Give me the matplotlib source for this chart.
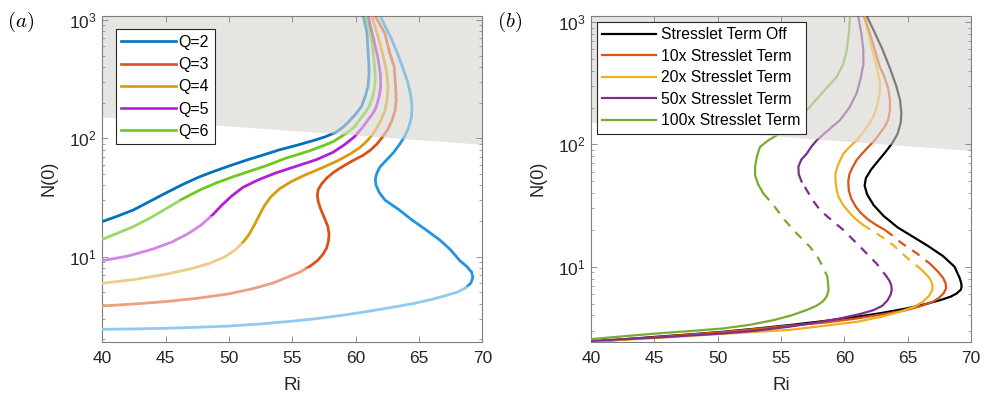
import numpy as np
import matplotlib
matplotlib.use("Agg")
import matplotlib.pyplot as plt
from matplotlib.patches import Polygon
from matplotlib.lines import Line2D
from matplotlib.ticker import LogLocator, NullFormatter

plt.rcParams['font.family'] = ['Liberation Sans', 'DejaVu Sans']

# ---------------- panel (a): N(0) vs Ri for several Q ----------------
q_labels = ["Q=2", "Q=3", "Q=4", "Q=5", "Q=6"]

q2_ri = [40, 42.5, 45, 47.5, 50, 52.5, 55, 57, 59, 61, 63, 64.5, 66, 67, 68, 68.7, 69.1, 69.25,
         69.15, 68.8, 68.2, 67.5, 66.65, 65.5, 64.45, 63.4, 62.32, 61.85, 61.6, 61.55, 61.65,
         61.9, 62.4, 63.0, 63.5, 63.9, 64.2, 64.4, 64.45, 64.35, 64.1, 63.7, 63.3, 62.8, 62.3, 61.9]
q2_n = [2.43, 2.45, 2.48, 2.53, 2.59, 2.7, 2.85, 3.0, 3.2, 3.45, 3.75, 4.0, 4.35, 4.65, 5.0, 5.45,
        6.0, 6.7, 7.4, 8.2, 9.3, 11.4, 13.8, 17, 20.4, 25, 30, 35, 40.3, 45, 50,
        57, 65, 76, 90, 105, 125, 150, 185, 230, 300, 400, 520, 700, 900, 1100]

q3_ri = [40, 42.5, 45, 47.5, 50, 52, 53.5, 54.6, 55.6, 56.4, 57.0, 57.4, 57.7, 57.85, 57.9, 57.8,
         57.55, 57.25, 57.05, 56.97, 57.05, 57.3, 57.7, 58.3, 59.0, 59.8, 60.6, 61.2, 61.7, 62.1,
         62.5, 62.85, 63.1, 63.2, 63.15, 63.05, 62.7, 62.3, 61.9, 61.5]
q3_n = [3.83, 3.98, 4.17, 4.45, 4.85, 5.4, 6.0, 6.7, 7.4, 8.3, 9.3, 10.4, 11.8, 13.5, 15.5, 18,
        21, 25, 29, 33, 37, 41, 46, 52, 58, 65, 72, 80, 90, 102,
        117, 140, 170, 210, 270, 400, 520, 773, 920, 1100]

q4_ri = [40, 42.5, 45, 47, 48.5, 49.7, 50.5, 51.1, 51.6, 52.0, 52.4, 52.8, 53.3, 54.0, 54.9, 56.0,
         57.3, 58.5, 59.5, 60.3, 60.9, 61.4, 61.9, 62.3, 62.5, 62.55, 62.45, 62.2, 61.8, 61.5, 61.24]
q4_n = [5.96, 6.4, 7.1, 7.9, 8.8, 10.0, 11.4, 13.2, 15.5, 18.5, 22.5, 27, 32, 37.5, 43, 49,
        56, 64, 73, 83, 95, 110, 135, 170, 220, 280, 360, 480, 700, 900, 1100]

q5_ri = [40, 42, 44, 45.5, 46.8, 47.8, 48.7, 49.4, 50.2, 51.1, 52.3, 53.7, 55.3, 56.9, 58.2, 59.1,
         59.9, 60.5, 60.97, 61.4, 61.63, 61.85, 61.97, 61.95, 61.75, 61.4, 61.15, 60.97]
q5_n = [9.25, 10.1, 11.6, 13.3, 15.7, 18.5, 22.5, 27, 32.5, 38.5, 44.5, 51, 58, 66, 76, 88,
        103, 122, 143, 165, 185, 225, 273, 350, 480, 700, 900, 1100]

q6_ri = [40, 41.2, 42.45, 43.8, 45.08, 46.4, 47.7, 49, 50.34, 51.7, 52.97, 54.5, 56.3, 57.5, 58.24,
         59.26, 59.9, 60.3, 60.75, 61.05, 61.35, 61.5, 61.55, 61.5, 61.35, 61.16, 60.8]
q6_n = [14.0, 15.8, 17.9, 21.3, 25.6, 31, 36.6, 42, 47.4, 53, 58.8, 68, 78, 87, 94,
        110, 125, 143, 165, 185, 225, 273, 330, 403, 560, 773, 1100]

q7_ri = [40, 41.2, 42.45, 43.8, 45.08, 46.4, 47.7, 48.9, 50.1, 51.4, 52.7, 54.0, 55.3, 56.7, 57.6,
         58.4, 59.0, 59.5, 60.0, 60.45, 60.75, 60.97, 61.05, 61.05, 60.95, 60.9, 60.58]
q7_n = [19.8, 22, 24.8, 29.5, 34.8, 41, 47.4, 53, 58.8, 65.5, 72.3, 80, 87, 96, 103,
        112, 124, 140, 160, 185, 225, 273, 340, 403, 600, 773, 1100]

# ---------------- panel (b): stresslet strength ----------------
s_labels = ["Stresslet Term Off", "10x Stresslet Term", "20x Stresslet Term",
            "50x Stresslet Term", "100x Stresslet Term"]

off_ri = [40, 42.5, 45.2, 47.8, 50.4, 53, 55.7, 58.4, 61.0, 63, 64.9, 66.4, 67.55, 68.4, 68.87,
          69.2, 69.26, 69.22, 69.1, 68.7, 67.8, 66.6, 65.45, 64.2, 63.1, 62.3, 61.8, 61.6, 61.7,
          62.1, 62.7, 63.3, 63.8, 64.2, 64.45, 64.5, 64.4, 64.1, 63.6, 63.0, 62.4, 61.8]
off_n = [2.44, 2.55, 2.68, 2.8, 2.94, 3.12, 3.34, 3.6, 3.9, 4.2, 4.56, 4.95, 5.33, 5.7, 6.05,
         6.5, 6.9, 7.4, 8.1, 10, 12.2, 14.8, 17.5, 21, 26, 32, 39, 46, 53,
         62, 74, 88, 103, 122, 150, 180, 230, 300, 420, 600, 820, 1100]

# 10x: stable lower branch, unstable (dashed) middle, upper branch
x10_lo_ri = [40, 45.2, 50.4, 55.7, 58.5, 61.0, 63.1, 64.9, 66.1, 67.0, 67.5, 67.85, 68.03, 68.0,
             67.8, 67.4, 66.76]
x10_lo_n = [2.43, 2.66, 2.92, 3.3, 3.5, 3.78, 4.1, 4.42, 4.8, 5.18, 5.6, 6.1, 6.65, 7.3,
            8.1, 9.1, 10.6]
x10_mid_ri = [66.76, 66.2, 65.71, 65.0, 64.39, 63.8, 63.2]
x10_mid_n = [10.6, 11.7, 12.9, 14.4, 16, 18, 20]
x10_up_ri = [63.2, 62.5, 61.9, 61.3, 60.9, 60.55, 60.35, 60.31, 60.4, 60.65, 60.97, 61.4, 61.9,
             62.4, 62.8, 63.2, 63.47, 63.6, 63.6, 63.45, 63.15, 62.8, 62.5, 62.2, 61.9, 61.55]
x10_up_n = [20, 22, 24.2, 27.5, 31, 36, 42, 50, 57, 65, 74.5, 84, 95.5,
            108, 123, 140, 160, 190, 230, 290, 360, 431, 550, 700, 880, 1100]

x20_lo_ri = [40, 45.2, 50.4, 55.7, 58.5, 61.0, 62.9, 64.4, 65.5, 66.2, 66.7, 66.95, 66.95, 66.75,
             66.4, 65.97]
x20_lo_n = [2.45, 2.62, 2.83, 3.05, 3.3, 3.55, 3.9, 4.29, 4.7, 5.18, 5.8, 6.5, 7.2, 8.0,
            8.8, 9.7]
x20_mid_ri = [65.97, 65.18, 64.5, 63.87, 63.2, 62.55, 61.5]
x20_mid_n = [9.7, 11.3, 13.0, 15, 16.9, 18.7, 21.9]
x20_up_ri = [61.5, 60.9, 60.45, 59.9, 59.55, 59.4, 59.3, 59.3, 59.5, 59.92, 60.4, 60.97, 61.6,
             62.0, 62.29, 62.6, 62.8, 62.8, 62.55, 62.2, 61.9, 61.63]
x20_up_n = [21.9, 24.5, 27.3, 32, 37, 42.3, 50, 58, 68, 84, 95, 108, 130,
            150, 168, 210, 261, 330, 431, 600, 800, 1100]

x50_lo_ri = [40, 45.2, 50.4, 53, 55.7, 57.8, 59.66, 61.2, 62.3, 63.0, 63.4, 63.65, 63.74, 63.7,
             63.55, 63.34]
x50_lo_n = [2.48, 2.64, 2.85, 3.0, 3.24, 3.5, 3.78, 4.1, 4.42, 4.8, 5.3, 5.9, 6.45, 7.1,
            7.7, 8.3]
x50_mid_ri = [63.34, 62.55, 61.9, 61.24, 60.6, 59.92, 59.0, 58.08, 57.5, 57.03, 56.63]
x50_mid_n = [8.3, 10.6, 12.4, 14.6, 17, 20, 24, 29, 35, 42.3, 49.4]
x50_up_ri = [56.63, 56.4, 56.37, 56.6, 57.03, 57.4, 57.82, 58.7, 59.66, 60.4, 60.97, 61.3, 61.5,
             61.5, 61.35, 61.1]
x50_up_n = [49.4, 57, 65.6, 75, 84, 96, 108, 130, 158, 200, 261, 350, 450,
            590, 800, 1100]

x100_lo_ri = [40, 42.5, 45.2, 47.8, 50.4, 52.5, 54.4, 55.8, 57.0, 57.8, 58.3, 58.6, 58.74, 58.74,
              58.7, 58.66]
x100_lo_n = [2.56, 2.7, 2.85, 2.98, 3.13, 3.35, 3.66, 4.0, 4.42, 4.8, 5.2, 5.7, 6.3, 6.86,
             7.5, 8.3]
x100_mid_ri = [58.66, 58.3, 57.95, 57.3, 56.24, 55.3, 54.4, 53.6]
x100_mid_n = [8.3, 10, 11.7, 14.5, 18.7, 24, 31.9, 39.8]
x100_up_ri = [53.6, 53.2, 52.95, 52.95, 53.1, 53.34, 54.0, 54.92, 56.0, 57.03, 58.2, 59.4, 59.9,
              60.19, 60.35, 60.45]
x100_up_n = [39.8, 47, 56, 65.6, 80, 95.5, 108, 123, 150, 190, 260, 357, 450,
             590, 800, 1100]

# shaded region: N(0) above this line
shade_ri = [40, 70]
shade_n = [152, 89]

# ---------------- styling ----------------
q_colors = ["#0072BD", "#D95319", "#D99A0E", "#B21FD4", "#6CC91E"]
q2_color = "#2393E3"
s_colors = ["#000000", "#D95319", "#EDB120", "#7E2F8E", "#77AC30"]
shade_color = "#E6E5E2"
axis_color = "#7f7f7f"
text_color = "#262626"


def lighten(c, f):
    rgb = np.array(matplotlib.colors.to_rgb(c))
    return tuple(rgb + (1 - rgb) * f)


fig = plt.figure(figsize=(9.87, 3.95), dpi=100)
ax_a = fig.add_axes([0.1037, 0.1349, 0.3850, 0.8253])
ax_b = fig.add_axes([0.5988, 0.1349, 0.3850, 0.8253])


def setup(ax, ylim):
    ax.set_yscale('log')
    ax.set_xlim(40, 70)
    ax.set_ylim(*ylim)
    ax.fill_between(shade_ri, shade_n, [ylim[1] * 2] * 2, color=shade_color, lw=0, zorder=0)
    ax.set_xticks(range(40, 71, 5))
    ax.yaxis.set_major_locator(LogLocator(base=10))
    ax.yaxis.set_minor_locator(LogLocator(base=10, subs=np.arange(2, 10)))
    ax.yaxis.set_minor_formatter(NullFormatter())
    ax.tick_params(which='both', direction='in', top=True, right=True, color=axis_color,
                   labelcolor=text_color, labelsize=12.5)
    ax.tick_params(which='major', length=4, width=0.6)
    ax.tick_params(which='minor', length=2, width=0.5)
    ax.tick_params(axis='x', pad=7)
    ax.tick_params(axis='y', pad=4)
    for s in ax.spines.values():
        s.set_color(axis_color)
        s.set_linewidth(0.8)
    ax.set_xlabel("Ri", fontsize=13.5, color=text_color)
    ax.set_ylabel("N(0)", fontsize=13, color=text_color)
    ax.xaxis.set_label_coords(0.5, -0.108)
    ax.yaxis.set_label_coords(-0.117, 0.5)


def draw(ax, x, y, color, ylim, ls='-', lw=1.6, n_light=None, light=0.45, fade=0.45, z=3):
    # lighter below n_light, full colour up to the shaded boundary, faded inside the shading
    lo, hi = ylim[0] / 2, ylim[1] * 2
    if n_light is None:
        n_light = lo
    band_light = Polygon([(40, lo), (70, lo), (70, min(n_light, shade_n[1])),
                          (40, min(n_light, shade_n[0]))], transform=ax.transData)
    band_full = Polygon([(40, n_light), (70, n_light), (70, shade_n[1]), (40, shade_n[0])],
                        transform=ax.transData)
    band_top = Polygon([(40, shade_n[0]), (70, shade_n[1]), (70, hi), (40, hi)],
                       transform=ax.transData)
    kw = dict(lw=lw, ls=ls, solid_capstyle='round', solid_joinstyle='round',
              dash_capstyle='butt', zorder=z)
    l1, = ax.plot(x, y, color=lighten(color, light), **kw)
    l1.set_clip_path(band_light)
    l2, = ax.plot(x, y, color=color, **kw)
    l2.set_clip_path(band_full)
    l3, = ax.plot(x, y, color=color, alpha=fade, **kw)
    l3.set_clip_path(band_top)


ylim_a = (1.91, 1086)
ylim_b = (2.44, 1126)
setup(ax_a, ylim_a)
setup(ax_b, ylim_b)

# panel (a)
draw(ax_a, q2_ri, q2_n, q2_color, ylim_a, lw=2.0, n_light=5.6, light=0.5)
draw(ax_a, q3_ri, q3_n, q_colors[1], ylim_a, lw=2.0, n_light=8.0, light=0.45)
draw(ax_a, q4_ri, q4_n, q_colors[2], ylim_a, lw=2.0, n_light=13, light=0.5)
draw(ax_a, q5_ri, q5_n, q_colors[3], ylim_a, lw=2.0, n_light=22, light=0.45)
draw(ax_a, q6_ri, q6_n, q_colors[4], ylim_a, lw=2.0, n_light=30, light=0.3)
draw(ax_a, q7_ri, q7_n, q_colors[0], ylim_a, lw=2.0)

handles_a = [Line2D([], [], color=c, lw=1.9) for c in q_colors]
leg_a = ax_a.legend(handles_a, q_labels, loc='upper left', bbox_to_anchor=(0.035, 0.958),
                    borderaxespad=0, fontsize=11.5, handlelength=3.4, handletextpad=0.2,
                    labelspacing=0.45, borderpad=0.35, fancybox=False, framealpha=1,
                    edgecolor=text_color)
leg_a.get_frame().set_linewidth(0.8)

# panel (b)
draw(ax_b, off_ri, off_n, s_colors[0], ylim_b)
for lo_x, lo_y, mid_x, mid_y, up_x, up_y, c in [
        (x10_lo_ri, x10_lo_n, x10_mid_ri, x10_mid_n, x10_up_ri, x10_up_n, s_colors[1]),
        (x20_lo_ri, x20_lo_n, x20_mid_ri, x20_mid_n, x20_up_ri, x20_up_n, s_colors[2]),
        (x50_lo_ri, x50_lo_n, x50_mid_ri, x50_mid_n, x50_up_ri, x50_up_n, s_colors[3]),
        (x100_lo_ri, x100_lo_n, x100_mid_ri, x100_mid_n, x100_up_ri, x100_up_n, s_colors[4])]:
    draw(ax_b, lo_x, lo_y, c, ylim_b)
    draw(ax_b, mid_x, mid_y, c, ylim_b, ls=(1.5, (4, 3.5)))
    draw(ax_b, up_x, up_y, c, ylim_b)

handles_b = [Line2D([], [], color=c, lw=1.6) for c in s_colors]
leg_b = ax_b.legend(handles_b, s_labels, loc='upper left', bbox_to_anchor=(0.015, 0.982),
                    borderaxespad=0, fontsize=11.3, handlelength=3.4, handletextpad=0.35,
                    labelspacing=0.42, borderpad=0.35, fancybox=False, framealpha=1,
                    edgecolor=text_color)
leg_b.get_frame().set_linewidth(0.8)

fig.text(0.007, 0.944, r"$(a)$", fontsize=15, math_fontfamily='cm', va='center', ha='left')
fig.text(0.504, 0.944, r"$(b)$", fontsize=15, math_fontfamily='cm', va='center', ha='left')

fig.savefig("out.png", dpi=100)
